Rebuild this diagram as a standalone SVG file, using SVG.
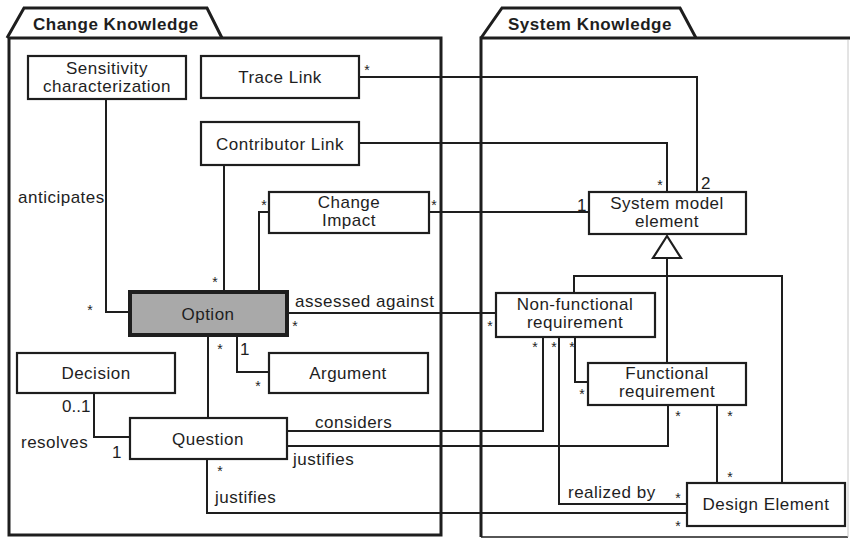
<svg xmlns="http://www.w3.org/2000/svg" width="850" height="539" viewBox="0 0 850 539">
  <style>
    text { font-family: "Liberation Sans", Arial, sans-serif; fill: #1e1e1e; }
    .lbl { font-size: 17px; letter-spacing: 0.5px; }
    .ctr { text-anchor: middle; }
    .title { font-size: 17px; font-weight: bold; letter-spacing: 0.5px; }
    .mult { font-size: 14px; text-anchor: middle; }
    .num { font-size: 17px; }
    .box { fill: #ffffff; stroke: #1e1e1e; stroke-width: 2.2; }
    .hot { fill: #a9a9a9; stroke: #1e1e1e; stroke-width: 4; }
    .pkg { fill: none; stroke: #1e1e1e; stroke-width: 3; }
    .wire { fill: none; stroke: #1e1e1e; stroke-width: 2; }
  </style>
  <rect width="850" height="539" fill="#ffffff"/>

  <!-- Packages -->
  <g id="pkg-change">
    <path class="pkg" d="M7,38 L24,8 L207,8 L222,38"/>
    <rect class="pkg" x="9" y="38" width="432" height="497"/>
    <text class="title" x="33" y="30">Change Knowledge</text>
  </g>
  <g id="pkg-system">
    <path class="pkg" d="M481,38 L502,8 L680,8 L696,38"/>
    <path class="pkg" d="M481,537 V38 H850"/>
    <path fill="none" stroke="#1e1e1e" stroke-width="1.6" d="M481,537 H848"/>
    <path fill="none" stroke="#c8c8c8" stroke-width="1" d="M848,40 V537"/>
    <text class="title" x="508" y="30">System Knowledge</text>
  </g>

  <!-- Connectors -->
  <g id="connectors">
    <path class="wire" d="M359,77 H697 V192"/>
    <path class="wire" d="M359,143 H667 V192"/>
    <path class="wire" d="M106,99 V312 H130"/>
    <path class="wire" d="M224,165 V292"/>
    <path class="wire" d="M259,292 V212 H269"/>
    <path class="wire" d="M429,212 H589"/>
    <path class="wire" d="M287,313 H496"/>
    <path class="wire" d="M237,335 V372 H269"/>
    <path class="wire" d="M208,335 V418"/>
    <path class="wire" d="M94,393 V437 H130"/>
    <path class="wire" d="M287,431 H543 V337"/>
    <path class="wire" d="M287,446 H668 V405"/>
    <path class="wire" d="M207,459 V513 H687"/>
    <path class="wire" d="M559,337 V504 H687"/>
    <path class="wire" d="M575,337 V382 H588"/>
    <path class="wire" d="M717,405 V483"/>
    <!-- generalization tree -->
    <path class="wire" d="M667,258 V363"/>
    <path class="wire" d="M574,293 V276 H782 V483"/>
    <polygon points="667,236 653,258 681,258" fill="#ffffff" stroke="#1e1e1e" stroke-width="2.2"/>

    <!-- association labels -->
    <text class="lbl" x="18" y="203">anticipates</text>
    <text class="lbl" x="295" y="307">assessed against</text>
    <text class="lbl" x="21" y="448">resolves</text>
    <text class="lbl" x="315" y="428">considers</text>
    <text class="lbl" x="293" y="465">justifies</text>
    <text class="lbl" x="215" y="503">justifies</text>
    <text class="lbl" x="568" y="498">realized by</text>

    <!-- multiplicities -->
    <text class="mult" x="367" y="75">*</text>
    <text class="mult" x="660" y="190">*</text>
    <text class="num" x="701" y="189">2</text>
    <text class="mult" x="90" y="315">*</text>
    <text class="mult" x="215" y="287">*</text>
    <text class="mult" x="264" y="210">*</text>
    <text class="mult" x="434" y="210">*</text>
    <text class="num" x="577" y="211">1</text>
    <text class="mult" x="295" y="331">*</text>
    <text class="mult" x="490" y="331">*</text>
    <text class="mult" x="220" y="354">*</text>
    <text class="num" x="240" y="355">1</text>
    <text class="mult" x="258" y="391">*</text>
    <text class="num" x="62" y="412">0..1</text>
    <text class="num" x="112" y="458">1</text>
    <text class="mult" x="535" y="352">*</text>
    <text class="mult" x="554" y="352">*</text>
    <text class="mult" x="572" y="352">*</text>
    <text class="mult" x="582" y="399">*</text>
    <text class="mult" x="678" y="421">*</text>
    <text class="mult" x="730" y="421">*</text>
    <text class="mult" x="730" y="482">*</text>
    <text class="mult" x="220" y="476">*</text>
    <text class="mult" x="678" y="503">*</text>
    <text class="mult" x="678" y="531">*</text>
  </g>

  <!-- Change knowledge classes -->
  <g id="sensitivity">
    <rect class="box" x="28" y="56" width="158" height="43"/>
    <text class="lbl ctr" x="107" y="74">Sensitivity</text>
    <text class="lbl ctr" x="107" y="92">characterization</text>
  </g>
  <g id="trace-link">
    <rect class="box" x="201" y="56" width="158" height="42"/>
    <text class="lbl ctr" x="280" y="83">Trace Link</text>
  </g>
  <g id="contributor-link">
    <rect class="box" x="201" y="122" width="158" height="43"/>
    <text class="lbl ctr" x="280" y="150">Contributor Link</text>
  </g>
  <g id="change-impact">
    <rect class="box" x="269" y="192" width="160" height="41"/>
    <text class="lbl ctr" x="349" y="208">Change</text>
    <text class="lbl ctr" x="349" y="226">Impact</text>
  </g>
  <g id="option">
    <rect class="hot" x="130" y="292" width="157" height="43"/>
    <text class="lbl ctr" x="208" y="320">Option</text>
  </g>
  <g id="decision">
    <rect class="box" x="17" y="353" width="158" height="40"/>
    <text class="lbl ctr" x="96" y="379">Decision</text>
  </g>
  <g id="argument">
    <rect class="box" x="269" y="353" width="159" height="40"/>
    <text class="lbl ctr" x="348" y="379">Argument</text>
  </g>
  <g id="question">
    <rect class="box" x="130" y="418" width="157" height="41"/>
    <text class="lbl ctr" x="208" y="445">Question</text>
  </g>

  <!-- System knowledge classes -->
  <g id="system-model-element">
    <rect class="box" x="589" y="192" width="157" height="42"/>
    <text class="lbl ctr" x="667" y="209">System model</text>
    <text class="lbl ctr" x="667" y="227">element</text>
  </g>
  <g id="non-functional-requirement">
    <rect class="box" x="496" y="293" width="159" height="44"/>
    <text class="lbl ctr" x="575" y="310">Non-functional</text>
    <text class="lbl ctr" x="575" y="328">requirement</text>
  </g>
  <g id="functional-requirement">
    <rect class="box" x="588" y="363" width="158" height="42"/>
    <text class="lbl ctr" x="667" y="379">Functional</text>
    <text class="lbl ctr" x="667" y="397">requirement</text>
  </g>
  <g id="design-element">
    <rect class="box" x="687" y="483" width="158" height="43"/>
    <text class="lbl ctr" x="766" y="510">Design Element</text>
  </g>
</svg>
